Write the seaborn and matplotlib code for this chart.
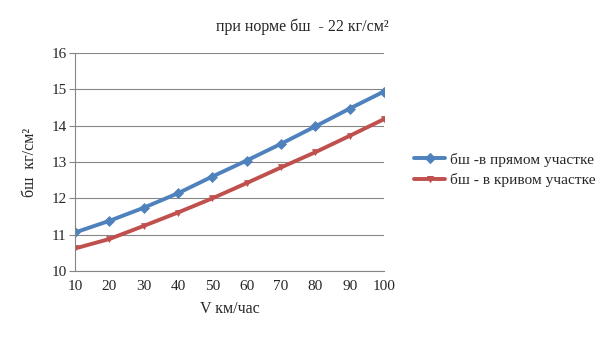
import matplotlib
matplotlib.use("Agg")
import matplotlib.pyplot as plt
import seaborn as sns
import pandas as pd

speed = [10, 20, 30, 40, 50, 60, 70, 80, 90, 100]
straight = [11.06, 11.38, 11.74, 12.14, 12.60, 13.04, 13.50, 13.98, 14.47, 14.94]
curve = [10.62, 10.88, 11.24, 11.61, 12.00, 12.42, 12.85, 13.27, 13.72, 14.18]
labels = ["бш -в прямом участке", "бш - в кривом участке"]
title = "при норме бш  - 22 кг/см²"
xlabel = "V км/час"
ylabel = "бш  кг/см²"

sns.set_style("white")
plt.rcParams['font.family'] = ['Liberation Serif', 'DejaVu Serif']

df = pd.DataFrame({
    "V": speed * 2,
    "val": straight + curve,
    "series": [labels[0]] * len(speed) + [labels[1]] * len(speed),
})

fig = plt.figure(figsize=(6.05, 3.4), dpi=100)
ax = fig.add_axes([75/605, 1-271/340, (384-75)/605, (271-53)/340])

palette = {labels[0]: "#4F81BD", labels[1]: "#C0504D"}
markers = {labels[0]: "D", labels[1]: "v"}
sns.lineplot(data=df, x="V", y="val", hue="series", style="series",
             palette=palette, markers=markers, dashes=False, linewidth=2.8,
             markersize=5, ax=ax, legend=True)
for line, c in zip(ax.lines, ["#4F81BD", "#C0504D"]):
    line.set_markeredgecolor(c)
    line.set_markerfacecolor(c)
    line.set_markeredgewidth(0.5)

ax.set_xlim(10, 100)
ax.set_ylim(10, 16)
ax.set_xticks(speed)
ax.set_yticks(range(10, 17))
ax.yaxis.grid(True, color="#868686", linewidth=0.8)
ax.set_axisbelow(True)
for s in ["top", "right"]:
    ax.spines[s].set_visible(False)
for s in ["left", "bottom"]:
    ax.spines[s].set_color("#868686")
    ax.spines[s].set_linewidth(0.8)
ax.tick_params(axis="y", which="both", left=True, length=4, color="#868686", labelsize=11, pad=2)
ax.tick_params(axis="x", bottom=False, labelsize=11, pad=3)

ax.set_xlabel(xlabel, fontsize=11.5, labelpad=6)
ax.set_ylabel(ylabel, fontsize=11.5, labelpad=10)
fig.text(302/605, 1-27/340, title, ha="center", va="center", fontsize=11.5)

leg = ax.legend(loc="center left", bbox_to_anchor=(408/605, 1-170/340), bbox_transform=fig.transFigure,
          frameon=False, fontsize=11.1, handlelength=2.0, handletextpad=0.3, labelspacing=0.45,
          borderaxespad=0)
for h, c in zip(leg.get_lines(), ["#4F81BD", "#C0504D"]):
    h.set_markeredgecolor(c)
    h.set_markerfacecolor(c)

fig.savefig("out.png", dpi=100)
